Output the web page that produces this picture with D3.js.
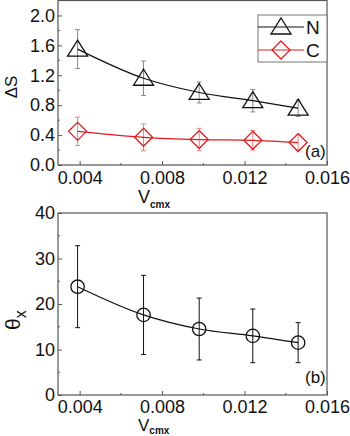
<!DOCTYPE html>
<html><head><meta charset="utf-8">
<script src="https://cdn.jsdelivr.net/npm/d3@7"></script>
<style>body{margin:0;background:#fff}svg{display:block}</style>
</head><body><svg id="c" width="350" height="436"></svg>
<script>
const vcmx = [0.0039, 0.0071, 0.0098, 0.0124, 0.0146];
const dsN = [1.55, 1.16, 0.97, 0.86, 0.76];
const dsNerr = [0.26, 0.23, 0.14, 0.15, 0.11];
const dsC = [0.45, 0.37, 0.34, 0.33, 0.30];
const dsCerr = [0.19, 0.18, 0.15, 0.13, 0.10];
const theta = [23.8, 17.6, 14.5, 13.0, 11.5];
const thetaErr = [9.0, 8.7, 6.8, 5.9, 4.4];
const xTicks = [0.004, 0.008, 0.012, 0.016];
const xMinor = [0.006, 0.010, 0.014];
const yTicksA = [0.0, 0.4, 0.8, 1.2, 1.6, 2.0];
const yTicksB = [0, 10, 20, 30, 40];
const legendLabels = ["N", "C"];

const svg = d3.select("#c");
const font = "'Liberation Sans', Arial, sans-serif";
const frameCol = "#555";
const L = 58, R = 327;
const x = d3.scaleLinear().domain([0.00295, 0.016]).range([L, R]);

function panel(yDomain, yRange, yTicks, yMinorStep, fmt, pad) {
  const y = d3.scaleLinear().domain(yDomain).range(yRange);
  const g = svg.append("g");
  g.append("rect").attr("x", L).attr("y", yRange[1]).attr("width", R - L).attr("height", yRange[0] - yRange[1])
    .attr("fill", "none").attr("stroke", frameCol).attr("stroke-width", 1.2);
  const xa = g.append("g").attr("transform", `translate(0,${yRange[0]})`)
    .call(d3.axisBottom(x).tickValues(xTicks).tickFormat(d3.format(".3f")).tickSizeInner(-4).tickSizeOuter(0).tickPadding(pad));
  xa.select(".domain").remove();
  xa.selectAll("line").attr("stroke", frameCol);
  xa.selectAll("text").attr("font-family", font).attr("font-size", 18).attr("fill", "#111");
  g.selectAll(".xm").data(xMinor).enter().append("line")
    .attr("x1", d => x(d)).attr("x2", d => x(d)).attr("y1", yRange[0]).attr("y2", yRange[0] - 2).attr("stroke", frameCol);
  const ya = g.append("g").attr("transform", `translate(${L},0)`)
    .call(d3.axisLeft(y).tickValues(yTicks).tickFormat(fmt).tickSizeInner(-4).tickSizeOuter(0).tickPadding(3));
  ya.select(".domain").remove();
  ya.selectAll("line").attr("stroke", frameCol);
  ya.selectAll("text").attr("font-family", font).attr("font-size", 18).attr("fill", "#111");
  const minors = d3.range(yDomain[0] + yMinorStep, yDomain[1], yMinorStep * 2);
  g.selectAll(".ym").data(minors).enter().append("line")
    .attr("x1", L).attr("x2", L + 2).attr("y1", d => y(d)).attr("y2", d => y(d)).attr("stroke", frameCol);
  return {g, y};
}

function series(p, vals, errs, color, errColor, marker) {
  const {g, y} = p;
  vals.forEach((v, i) => {
    const cx = x(vcmx[i]);
    g.append("line").attr("x1", cx).attr("x2", cx).attr("y1", y(v - errs[i])).attr("y2", y(v + errs[i])).attr("stroke", errColor).attr("stroke-width", 1);
    [v - errs[i], v + errs[i]].forEach(e => g.append("line").attr("x1", cx - 2.5).attr("x2", cx + 2.5).attr("y1", y(e)).attr("y2", y(e)).attr("stroke", errColor).attr("stroke-width", 1));
  });
  g.append("path").datum(vals).attr("fill", "none").attr("stroke", color).attr("stroke-width", 1.2)
    .attr("d", d3.line().x((d, i) => x(vcmx[i])).y(d => y(d)).curve(d3.curveMonotoneX));
  vals.forEach((v, i) => drawMarker(g, x(vcmx[i]), y(v), marker, color));
}

function drawMarker(g, cx, cy, marker, color) {
  if (marker === "tri") {
    g.append("path").attr("d", `M${cx},${cy - 9}L${cx + 10},${cy + 7}L${cx - 10},${cy + 7}Z`)
      .attr("fill", "none").attr("stroke", color).attr("stroke-width", 1.3);
  } else if (marker === "dia") {
    g.append("path").attr("d", `M${cx},${cy - 9}L${cx + 9},${cy}L${cx},${cy + 9}L${cx - 9},${cy}Z`)
      .attr("fill", "none").attr("stroke", color).attr("stroke-width", 1.3);
  } else {
    g.append("circle").attr("cx", cx).attr("cy", cy).attr("r", 6.7)
      .attr("fill", "none").attr("stroke", color).attr("stroke-width", 1.3);
  }
}

// Panel (a)
const pa = panel([0, 2.2], [165, 0.5], yTicksA, 0.2, d3.format(".1f"), 6);
series(pa, dsN, dsNerr, "#111", "#888", "tri");
series(pa, dsC, dsCerr, "#e31a1c", "#f08080", "dia");
const lg = pa.g.append("g");
lg.append("rect").attr("x", 258).attr("y", 15).attr("width", 69).attr("height", 47).attr("fill", "#fff").attr("stroke", "#777").attr("stroke-width", 1);
[["#111", "tri", 27], ["#e31a1c", "dia", 50]].forEach((d, i) => {
  lg.append("line").attr("x1", 258).attr("x2", 304).attr("y1", d[2]).attr("y2", d[2]).attr("stroke", d[0]).attr("stroke-width", 1.2);
  drawMarker(lg, 281, d[2], d[1], d[0]);
  lg.append("text").attr("x", 306).attr("y", d[2] + 7).attr("font-family", font).attr("font-size", 19).attr("fill", "#111").text(legendLabels[i]);
});
pa.g.append("text").attr("x", 305).attr("y", 157).attr("font-family", font).attr("font-size", 17).attr("fill", "#111").text("(a)");
const ta = svg.append("text").attr("x", 138).attr("y", 203).attr("font-family", font).attr("font-size", 18).attr("fill", "#111");
ta.append("tspan").text("V");
ta.append("tspan").attr("dy", 5).attr("font-size", 10).attr("font-weight", "bold").text("cmx");
svg.append("text").attr("transform", "translate(17,87) rotate(-90)").attr("text-anchor", "middle")
  .attr("font-family", font).attr("font-size", 17).attr("fill", "#111").text("ΔS");

// Panel (b)
const pb = panel([0, 40], [395, 213], yTicksB, 5, d3.format("d"), 5);
series(pb, theta, thetaErr, "#111", "#111", "circ");
pb.g.append("text").attr("x", 305).attr("y", 383).attr("font-family", font).attr("font-size", 17).attr("fill", "#111").text("(b)");
const tb = svg.append("text").attr("x", 138).attr("y", 431).attr("font-family", font).attr("font-size", 17).attr("fill", "#111");
tb.append("tspan").text("V");
tb.append("tspan").attr("dy", 3).attr("font-size", 10).attr("font-weight", "bold").text("cmx");
const tt = svg.append("text").attr("transform", "translate(20,330) rotate(-90)")
  .attr("font-family", font).attr("font-size", 21).attr("fill", "#111");
tt.append("tspan").text("θ");
tt.append("tspan").attr("dy", 6).attr("font-size", 16).text("x");
</script></body></html>
